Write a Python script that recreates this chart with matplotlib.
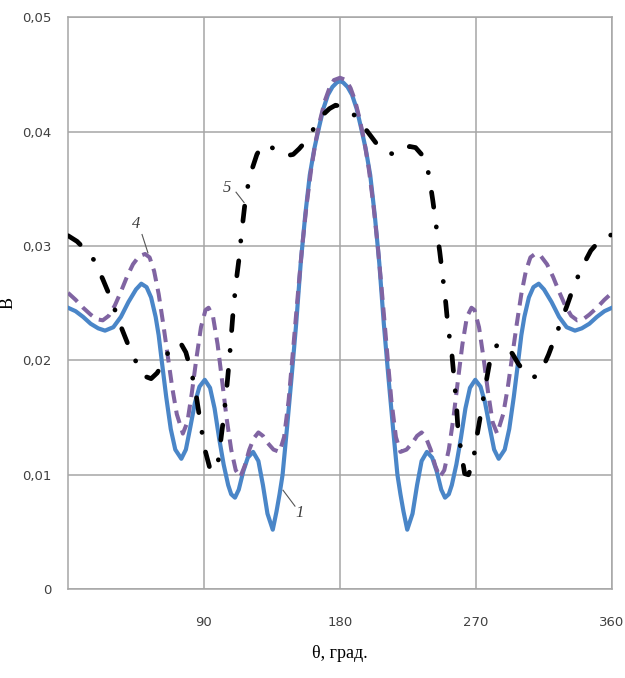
import matplotlib
matplotlib.use("Agg")
import matplotlib.pyplot as plt

# curve 1 (blue, solid)
theta1 = [0, 5, 10, 15, 20, 24.5, 30, 35, 40, 45, 48.5, 52, 55, 58, 60, 62, 65, 68, 71, 75,
          78, 81, 84, 87, 90.5, 94, 97, 100, 103, 106, 108, 110.5, 113, 116, 119, 122.5, 126,
          129, 132, 135.5, 138, 140, 142, 145, 148, 151, 154, 157, 160, 163, 166, 169, 172,
          175, 178, 180, 182, 185, 188, 191, 194, 197, 200, 203, 206, 209, 212, 215, 218, 220,
          222, 224.5, 228, 231, 234, 237.5, 241, 244, 247, 249.5, 252, 254, 257, 260, 263, 266,
          269.5, 273, 276, 279, 282, 285, 289, 292, 295, 298, 300, 302, 305, 308, 311.5, 315,
          320, 325, 330, 335.5, 340, 345, 350, 355, 360]
b1 = [0.0246, 0.0243, 0.0238, 0.0232, 0.0228, 0.0226, 0.0229, 0.0238, 0.0251, 0.0262, 0.0267,
      0.0264, 0.0255, 0.0238, 0.0222, 0.0200, 0.0168, 0.0140, 0.0122, 0.0114, 0.0122, 0.0142,
      0.0163, 0.0177, 0.0183, 0.0176, 0.0158, 0.0132, 0.0109, 0.0091, 0.0083, 0.0080, 0.0087,
      0.0103, 0.0115, 0.0120, 0.0112, 0.0091, 0.0066, 0.0052, 0.0068, 0.0083, 0.0100, 0.0142,
      0.0186, 0.0232, 0.0285, 0.0327, 0.0362, 0.0385, 0.0403, 0.0420, 0.0432, 0.0439, 0.0443,
      0.0444, 0.0443, 0.0439, 0.0432, 0.0420, 0.0403, 0.0385, 0.0362, 0.0327, 0.0285, 0.0232,
      0.0186, 0.0142, 0.0100, 0.0083, 0.0068, 0.0052, 0.0066, 0.0091, 0.0112, 0.0120, 0.0115,
      0.0103, 0.0087, 0.0080, 0.0083, 0.0091, 0.0109, 0.0132, 0.0158, 0.0176, 0.0183, 0.0177,
      0.0163, 0.0142, 0.0122, 0.0114, 0.0122, 0.0140, 0.0168, 0.0200, 0.0222, 0.0238, 0.0255,
      0.0264, 0.0267, 0.0262, 0.0251, 0.0238, 0.0229, 0.0226, 0.0228, 0.0232, 0.0238, 0.0243,
      0.0246]

# curve 4 (purple, dashed)
theta4 = [0, 5, 10, 15, 19, 23, 27, 31, 35, 39, 43, 47, 51, 54, 57, 60, 63, 66, 69, 72, 76,
          79, 82, 85, 88, 91, 93, 96, 99, 102, 105, 108, 111, 114, 117, 120, 123, 126, 129, 132,
          136, 140, 143, 146, 149, 152, 155, 158, 161, 164, 167, 170, 173, 176, 180, 184, 187,
          190, 193, 196, 199, 202, 205, 208, 211, 214, 217, 220, 224, 228, 231, 234, 237, 240,
          243, 246, 249, 252, 255, 258, 261, 264, 267, 269, 272, 275, 278, 281, 284, 288, 291,
          294, 297, 300, 303, 306, 309, 313, 317, 321, 325, 329, 333, 337, 341, 345, 350, 355,
          360]
b4 = [0.0259, 0.0253, 0.0246, 0.0240, 0.0236, 0.0235, 0.0239, 0.0248, 0.0260, 0.0273, 0.0284,
      0.0291, 0.0293, 0.0290, 0.0278, 0.0258, 0.0232, 0.0204, 0.0176, 0.0153, 0.0136, 0.0146,
      0.0172, 0.0202, 0.0229, 0.0244, 0.0246, 0.0238, 0.0214, 0.0182, 0.0149, 0.0122, 0.0104,
      0.0098, 0.0108, 0.0122, 0.0132, 0.0137, 0.0134, 0.0128, 0.0122, 0.0120, 0.0133, 0.0165,
      0.0210, 0.0256, 0.0300, 0.0337, 0.0368, 0.0392, 0.0411, 0.0427, 0.0438, 0.0445, 0.0447,
      0.0445, 0.0438, 0.0427, 0.0411, 0.0392, 0.0368, 0.0337, 0.0300, 0.0256, 0.0210, 0.0165,
      0.0133, 0.0120, 0.0122, 0.0128, 0.0134, 0.0137, 0.0132, 0.0122, 0.0108, 0.0098, 0.0104,
      0.0122, 0.0149, 0.0182, 0.0214, 0.0238, 0.0246, 0.0244, 0.0229, 0.0202, 0.0172, 0.0146,
      0.0136, 0.0153, 0.0176, 0.0204, 0.0232, 0.0258, 0.0278, 0.0290, 0.0293, 0.0291, 0.0284,
      0.0273, 0.0260, 0.0248, 0.0239, 0.0235, 0.0236, 0.0240, 0.0246, 0.0253, 0.0259]

# curve 5 (black, dash-dot)
theta5 = [0, 6, 12, 17, 23, 29, 34, 40, 46, 51, 55, 59, 63, 67, 71, 75, 78, 82, 85, 88, 91, 94,
          97, 99, 101, 103, 105, 107, 109, 111, 113, 115, 117, 119, 122, 125, 128, 131, 134,
          137, 141, 145, 149, 153, 157, 161, 165, 169, 173, 177, 181, 185, 189, 193, 197, 201,
          205, 209, 213, 217, 221, 226, 230, 234, 237, 239, 241.5, 244, 246, 248, 250, 251.5,
          254, 255.5, 257, 258, 260.5, 262.5, 265, 268, 270.5, 273, 276, 279, 282, 285, 289,
          294, 298, 302, 306, 310, 314, 318, 322, 326, 330, 334, 338, 342, 346, 350, 355, 360]
b5 = [0.0309, 0.0304, 0.0296, 0.0288, 0.0271, 0.0252, 0.0233, 0.0213, 0.0196, 0.0186, 0.0184,
      0.0189, 0.0198, 0.0209, 0.0215, 0.0214, 0.0207, 0.0188, 0.0168, 0.0142, 0.0120, 0.0105,
      0.0103, 0.0108, 0.0129, 0.0150, 0.0175, 0.0204, 0.0238, 0.0266, 0.0287, 0.0313, 0.0336,
      0.0352, 0.0368, 0.0380, 0.0387, 0.0389, 0.0387, 0.0384, 0.0381, 0.0379, 0.0380, 0.0385,
      0.0391, 0.0399, 0.0408, 0.0415, 0.0420, 0.0423, 0.0422, 0.0419, 0.0415, 0.0409, 0.0402,
      0.0395, 0.0388, 0.0383, 0.0381, 0.0380, 0.0382, 0.0387, 0.0386, 0.0380, 0.0372, 0.0361,
      0.0339, 0.0314, 0.0295, 0.0273, 0.0250, 0.0229, 0.0206, 0.0184, 0.0163, 0.0141, 0.0117,
      0.0101, 0.0100, 0.0111, 0.0133, 0.0152, 0.0176, 0.0198, 0.0210, 0.0215, 0.0212, 0.0206,
      0.0197, 0.0190, 0.0185, 0.0186, 0.0193, 0.0205, 0.0219, 0.0233, 0.0247, 0.0262, 0.0275,
      0.0286, 0.0296, 0.0302, 0.0307, 0.0310]

xticks = [90, 180, 270, 360]
yticks = [0, 0.01, 0.02, 0.03, 0.04, 0.05]
ytick_labels = ["0", "0,01", "0,02", "0,03", "0,04", "0,05"]

fig = plt.figure(figsize=(6.25, 6.78), dpi=100)
ax = fig.add_axes([0.1088, 0.131, 0.8704, 0.8437])

ax.plot(theta1, b1, color="#4a86c8", lw=3.0, zorder=3)
ax.plot(theta4, b4, color="#8064a2", lw=2.9, ls=(0, (3.2, 1.9)), zorder=4)
ax.plot(theta5, b5, color="black", lw=3.4, ls=(0, (3.2, 4.2, 0.05, 4.2)),
        dash_capstyle="round", zorder=5)

ax.set_xlim(0, 360)
ax.set_ylim(0, 0.05)
ax.set_xticks(xticks)
ax.set_yticks(yticks)
ax.set_yticklabels(ytick_labels)
ax.tick_params(length=0, labelsize=9.5, colors="#404040")
ax.tick_params(axis="x", pad=19)
ax.tick_params(axis="y", pad=12)
ax.grid(True, color="#a6a6a6", lw=1.1)
ax.set_axisbelow(True)
for s in ax.spines.values():
    s.set_color("#a6a6a6")
    s.set_linewidth(1.1)

serif = ["Liberation Serif", "DejaVu Serif"]
ax.set_xlabel("θ, град.", family=serif, fontsize=13, labelpad=12)
ax.set_ylabel("В", family=serif, fontsize=13)
ax.yaxis.set_label_coords(-0.095, 0.50)

# curve labels with leader lines
lab = dict(family=serif, style="italic", fontsize=12, color="#3a3a3a", ha="center", va="center")
ax.text(45.0, 0.0319, "4", **lab)
ax.plot([49.0, 52.9], [0.0310, 0.0294], color="#555555", lw=0.8, zorder=6)
ax.text(105.2, 0.0351, "5", **lab)
ax.plot([111.2, 116.5], [0.0347, 0.0338], color="#555555", lw=0.8, zorder=6)
ax.text(153.5, 0.0067, "1", **lab)
ax.plot([142.3, 150.2], [0.00865, 0.00726], color="#555555", lw=0.8, zorder=6)

fig.savefig("out.png", dpi=100)
